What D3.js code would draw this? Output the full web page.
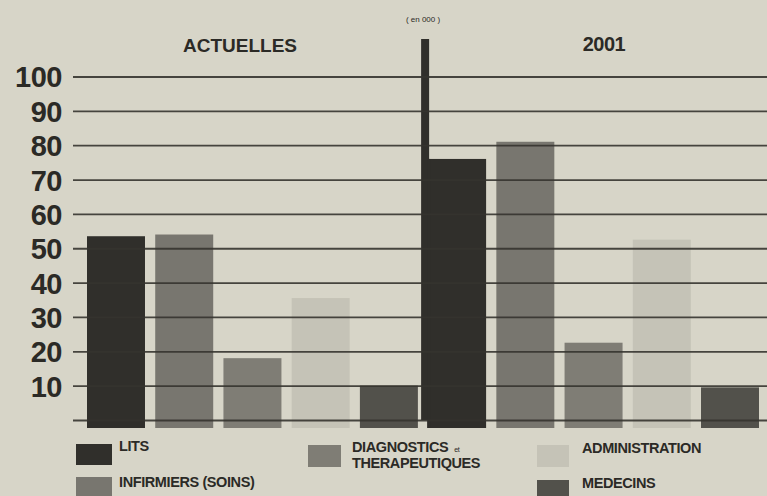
<!DOCTYPE html>
<html>
<head>
<meta charset="utf-8">
<script src="https://cdn.jsdelivr.net/npm/d3@7"></script>
<style>
  html, body { margin: 0; padding: 0; background: #d7d5c8; }
  svg { display: block; }
  text { font-family: "Liberation Sans", Arial, Helvetica, sans-serif; fill: #2b2a26; }
</style>
</head>
<body>
<svg id="chart" width="767" height="496"></svg>
<script>
// Hospital staffing, current vs. 2001 (thousands)
const groups = ["ACTUELLES", "2001"];
const categories = ["LITS", "INFIRMIERS (SOINS)", "DIAGNOSTICS et THERAPEUTIQUES", "ADMINISTRATION", "MEDECINS"];
const valuesActuelles = [53.5, 54, 18, 35.5, 10];
const values2001 = [76, 81, 22.5, 52.5, 9.5];
const tickValues = [0, 10, 20, 30, 40, 50, 60, 70, 80, 90, 100];
const unitLabel = "( en 000 )";

const colors = ["#302f2b", "#78766f", "#7f7d75", "#c5c3b7", "#52514b"];

const svg = d3.select("#chart");
const W = 767;

const rows = [];
groups.forEach((g, gi) => {
  const vals = gi === 0 ? valuesActuelles : values2001;
  categories.forEach((c, ci) => rows.push({ key: g + "|" + c, group: g, cat: ci, value: vals[ci] }));
});

const x = d3.scaleBand()
  .domain(rows.map(d => d.key))
  .range([87, 759])
  .paddingInner(0.15)
  .paddingOuter(0);

const y = d3.scaleLinear().domain([0, 100]).range([420, 76.5]);
const baseline = y(0) + 8;

// Bars
svg.append("g").selectAll("rect")
  .data(rows)
  .join("rect")
  .attr("x", d => x(d.key))
  .attr("width", x.bandwidth())
  .attr("y", d => y(d.value))
  .attr("height", d => baseline - y(d.value))
  .attr("fill", d => colors[d.cat]);

// Divider between the two periods, joined to the first bar of the second period
const firstNext = x(groups[1] + "|" + categories[0]);
svg.append("rect")
  .attr("x", firstNext - 7)
  .attr("width", 8)
  .attr("y", 39)
  .attr("height", y(0) - 39)
  .attr("fill", colors[0]);
svg.append("rect")
  .attr("x", firstNext - 1)
  .attr("width", 3)
  .attr("y", y(values2001[0]))
  .attr("height", baseline - y(values2001[0]))
  .attr("fill", colors[0]);

// Grid lines and value scale, drawn over the bars
const axisX = 73;
const axis = d3.axisLeft(y)
  .tickValues(tickValues)
  .tickSize(-(W - axisX))
  .tickPadding(11)
  .tickFormat(d => d === 0 ? "" : d);

const ax = svg.append("g")
  .attr("transform", `translate(${axisX},0)`)
  .call(axis);
ax.select(".domain").remove();
ax.selectAll(".tick line")
  .attr("stroke", "#35342f")
  .attr("stroke-width", 1.8)
  .attr("stroke-opacity", 0.9);
ax.selectAll(".tick text")
  .attr("fill", "#2b2a26")
  .style("font-size", "29px")
  .style("font-weight", "bold")
  .style("letter-spacing", "-0.5px")
  .attr("dy", "0.36em");

// Period headings
svg.append("text")
  .attr("x", 240).attr("y", 52)
  .attr("text-anchor", "middle")
  .style("font-size", "19px").style("font-weight", "bold")
  .text(groups[0]);
svg.append("text")
  .attr("x", 604).attr("y", 51)
  .attr("text-anchor", "middle")
  .style("font-size", "20px").style("font-weight", "bold")
  .style("letter-spacing", "-0.5px")
  .text(groups[1]);
svg.append("text")
  .attr("x", 423).attr("y", 22)
  .attr("text-anchor", "middle")
  .style("font-size", "8px")
  .text(unitLabel);

// Legend
const legendItems = [
  { cat: 0, sx: 76, sy: 444, sw: 36, sh: 21, tx: 119, lines: [{ t: "LITS", y: 451 }] },
  { cat: 1, sx: 76, sy: 477, sw: 36, sh: 22, tx: 119, lines: [{ t: "INFIRMIERS (SOINS)", y: 487 }] },
  { cat: 2, sx: 308, sy: 445, sw: 33, sh: 22, tx: 352, lines: [{ t: "DIAGNOSTICS", y: 452, small: "et" }, { t: "THERAPEUTIQUES", y: 468 }] },
  { cat: 3, sx: 537, sy: 445, sw: 32, sh: 22, tx: 582, lines: [{ t: "ADMINISTRATION", y: 453 }] },
  { cat: 4, sx: 537, sy: 480, sw: 32, sh: 20, tx: 582, lines: [{ t: "MEDECINS", y: 488 }] }
];

const lg = svg.append("g");
legendItems.forEach(it => {
  lg.append("rect")
    .attr("x", it.sx).attr("y", it.sy)
    .attr("width", it.sw).attr("height", it.sh)
    .attr("fill", colors[it.cat]);
  it.lines.forEach(l => {
    const t = lg.append("text")
      .attr("x", it.tx).attr("y", l.y)
      .style("font-size", "14.5px").style("font-weight", "bold")
      .style("letter-spacing", "-0.4px");
    t.append("tspan").text(l.t);
    if (l.small) {
      t.append("tspan").attr("dx", 6).style("font-size", "7px").style("font-weight", "normal").text(l.small);
    }
  });
});
</script>
</body>
</html>
